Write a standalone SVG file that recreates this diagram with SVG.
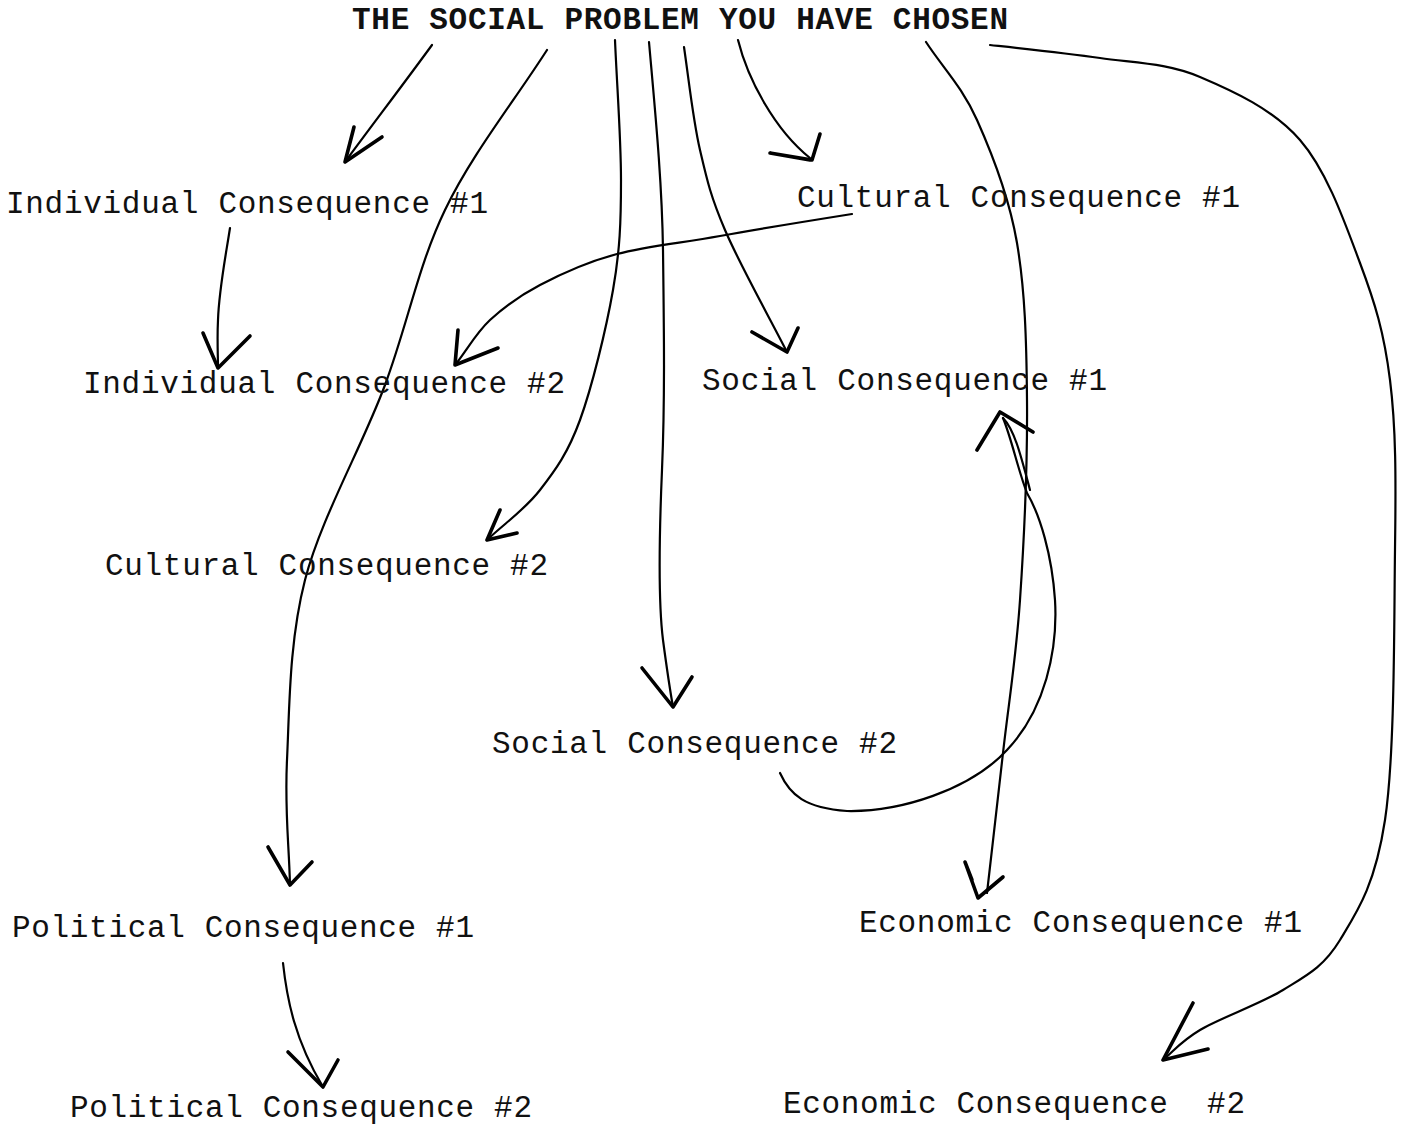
<svg xmlns="http://www.w3.org/2000/svg" width="1407" height="1126" viewBox="0 0 1407 1126">
  <style>
    .label { font-family: "Liberation Mono", "Courier New", monospace; font-size: 31px; fill: #111; }
    .title { font-weight: bold; }
    .line { fill: none; stroke: #000; stroke-width: 2.2; stroke-linecap: round; stroke-linejoin: round; }
    .head { fill: none; stroke: #000; stroke-width: 3.6; stroke-linecap: round; stroke-linejoin: round; }
  </style>
  <rect x="0" y="0" width="1407" height="1126" fill="#fff"/>

  <!-- hand-drawn connectors -->
  <g id="connectors">
    <!-- problem -> individual #1 -->
    <path class="line" d="M432,45 C405,82 370,128 345,162"/>
    <path class="head" d="M354,127 L345,162 L382,137"/>

    <!-- problem -> political #1 -->
    <path class="line" d="M547,50 C513,103 472,154 445,210 C418,266 408,323 385,385 C362,447 321,518 305,580 C289,642 289.5,709 287,760 C284.5,811 289,843 290,885"/>
    <path class="head" d="M268,847 L290,885 L312,862"/>

    <!-- problem -> cultural #2 -->
    <path class="line" d="M615,40 C617,87 621,138 621,180 C621,222 620,250 613,290 C606,330 592,387 580,420 C568,453 555.5,470 540,490 C524.5,510 505,523 487,540"/>
    <path class="head" d="M500,510 L487,540 L517,533"/>

    <!-- problem -> social #2 -->
    <path class="line" d="M649,42 C655,110 662,180 663,250 C664,330 665,400 662,470 C659,540 658,600 663,640 C667,670 670,690 673,707"/>
    <path class="head" d="M642,668 L673,707 L692,677"/>

    <!-- problem -> social #1 -->
    <path class="line" d="M684,47 C689,81 693,120 700,150 C707,180 710.5,196 725,230 C739.5,264 766,311 787,352"/>
    <path class="head" d="M752,332 L787,352 L798,328"/>

    <!-- problem -> cultural #1 -->
    <path class="line" d="M738,40 C748,80 775,130 810,158"/>
    <path class="head" d="M820,134 L812,160 L770,153 L810,160"/>

    <!-- cultural #1 -> individual #2 -->
    <path class="line" d="M852,214 C808,221 759,229 720,236 C681,243 647,246 617,254 C587,262 561,274 540,285 C519,296 504,307 490,320 C476,333 467,350 455,365"/>
    <path class="head" d="M458,330 L455,365 L498,348"/>

    <!-- individual #1 -> individual #2 -->
    <path class="line" d="M230,228 C225,260 219,290 218,320 C217,340 218,355 218,368"/>
    <path class="head" d="M203,333 L218,368 L250,336"/>

    <!-- problem -> economic #1 -->
    <path class="line" d="M926,42 C943,68 962,86.5 977,120 C992,153.5 1009,196 1017,243 C1025,290 1026.5,340.5 1027,400 C1027.5,459.5 1024,541 1020,600 C1016,659 1008.5,704 1003,753 C997.5,802 992.3,846.3 987,893"/>
    <path class="head" d="M965,862 L978,898 L1003,877 M972,880 L965,862"/>

    <!-- social #2 -> social #1 -->
    <path class="line" d="M780,773 C790,795 805,808 847,811 C900,812 970,790 1007,750 C1045,710 1058,650 1055,600 C1052,555 1040,515 1027,493 C1018,470 1012,440 1003,418"/>
    <path class="line" d="M1003,418 C1015,430 1022,460 1030,490"/>
    <path class="head" d="M977,450 L1000,412 L1033,432"/>

    <!-- problem -> economic #2 -->
    <path class="line" d="M990,45 C1027,49 1065,53 1100,58 C1135,63 1167,63 1200,77 C1233,91 1273,109 1300,140 C1327,171 1345,223 1360,263 C1375,303 1384,332 1390,380 C1396,428 1396,477 1395,550 C1394,623 1395,754 1385,820 C1375,886 1357,912 1340,940 C1323,968 1305.5,976 1283,990 C1260.5,1004 1220,1018 1200,1030 C1180,1042 1175,1050 1163,1060"/>
    <path class="head" d="M1193,1003 L1163,1060 L1208,1049"/>

    <!-- political #1 -> political #2 -->
    <path class="line" d="M283,963 C287,1000 295,1040 323,1087"/>
    <path class="head" d="M288,1052 L323,1087 L338,1060"/>
  </g>

  <g id="problem">
    <text class="label title" x="352" y="29" textLength="656" lengthAdjust="spacing">THE SOCIAL PROBLEM YOU HAVE CHOSEN</text>
  </g>
  <g id="individual-1">
    <text class="label" x="6" y="213" textLength="482" lengthAdjust="spacing">Individual Consequence #1</text>
  </g>
  <g id="cultural-1">
    <text class="label" x="797" y="207" textLength="443" lengthAdjust="spacing">Cultural Consequence #1</text>
  </g>
  <g id="individual-2">
    <text class="label" x="83" y="393" textLength="482" lengthAdjust="spacing">Individual Consequence #2</text>
  </g>
  <g id="social-1">
    <text class="label" x="702" y="390" textLength="405" lengthAdjust="spacing">Social Consequence #1</text>
  </g>
  <g id="cultural-2">
    <text class="label" x="105" y="575" textLength="443" lengthAdjust="spacing">Cultural Consequence #2</text>
  </g>
  <g id="social-2">
    <text class="label" x="492" y="753" textLength="405" lengthAdjust="spacing">Social Consequence #2</text>
  </g>
  <g id="political-1">
    <text class="label" x="12" y="937" textLength="462" lengthAdjust="spacing">Political Consequence #1</text>
  </g>
  <g id="economic-1">
    <text class="label" x="859" y="932" textLength="443" lengthAdjust="spacing">Economic Consequence #1</text>
  </g>
  <g id="political-2">
    <text class="label" x="70" y="1117" textLength="462" lengthAdjust="spacing">Political Consequence #2</text>
  </g>
  <g id="economic-2">
    <text class="label" x="783" y="1113" textLength="462" lengthAdjust="spacing" xml:space="preserve">Economic Consequence  #2</text>
  </g>
</svg>
